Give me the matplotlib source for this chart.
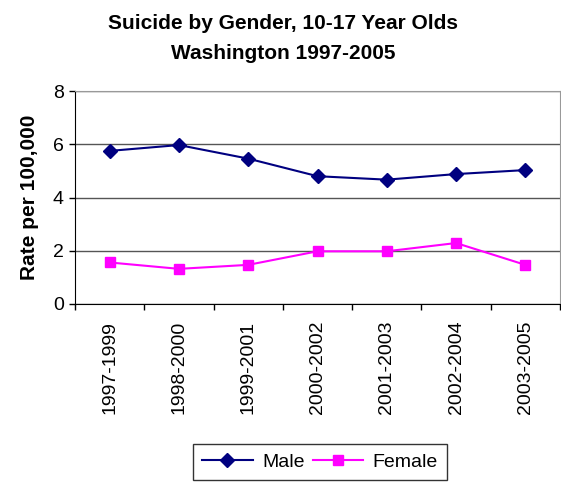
import matplotlib
matplotlib.use("Agg")
import matplotlib.pyplot as plt
import numpy as np
from matplotlib.ticker import FixedLocator, NullFormatter

plt.rcParams['font.family'] = ['Liberation Sans', 'DejaVu Sans']

categories = ["1997-1999", "1998-2000", "1999-2001", "2000-2002", "2001-2003", "2002-2004", "2003-2005"]
male = [5.75, 5.97, 5.46, 4.8, 4.67, 4.88, 5.03]
female = [1.56, 1.32, 1.47, 1.98, 1.98, 2.29, 1.47]
yticks = [0, 2, 4, 6, 8]

fig = plt.figure(figsize=(5.61, 4.83), dpi=100)
ax = fig.add_axes([75/561, 1-304/483, 485/561, 213/483])
x = np.arange(len(categories))
ax.plot(x, male, color="#000080", marker="D", markersize=7, linewidth=1.5, label="Male")
ax.plot(x, female, color="#FF00FF", marker="s", markersize=7, linewidth=1.5, label="Female")

ax.set_xlim(-0.5, len(categories)-0.5)
ax.set_ylim(0, 8)
ax.set_yticks(yticks)
ax.set_yticklabels([str(v) for v in yticks], fontsize=14)
ax.yaxis.grid(True, color="#555555", linewidth=1)
ax.set_axisbelow(True)

ax.set_xticks(x)
ax.set_xticklabels(categories, rotation=90, fontsize=14)
ax.tick_params(axis='x', which='major', length=0, pad=12)
ax.xaxis.set_minor_locator(FixedLocator(np.arange(-0.5, len(categories), 1.0)))
ax.xaxis.set_minor_formatter(NullFormatter())
ax.tick_params(axis='x', which='minor', length=4, width=1, color='black')
ax.tick_params(axis='y', length=4, width=1, color='black', pad=4)

for s in ['top', 'right']:
    ax.spines[s].set_color('#999999')
for s in ['left', 'bottom']:
    ax.spines[s].set_color('black')

ax.set_ylabel("Rate per 100,000", fontsize=15, fontweight='bold', labelpad=10)

fig.text(0.505, 0.972, "Suicide by Gender, 10-17 Year Olds\nWashington 1997-2005", ha='center', va='top',
         fontsize=15, fontweight='bold', linespacing=1.75)

leg = fig.legend(loc='center', bbox_to_anchor=(320/561, 1-462/483), ncol=2, fontsize=14,
                 frameon=True, fancybox=False, edgecolor='black', handlelength=2.6, columnspacing=0.4,
                 handletextpad=0.5, borderpad=0.45)
leg.get_frame().set_linewidth(1)

fig.savefig("out.png", dpi=100)
